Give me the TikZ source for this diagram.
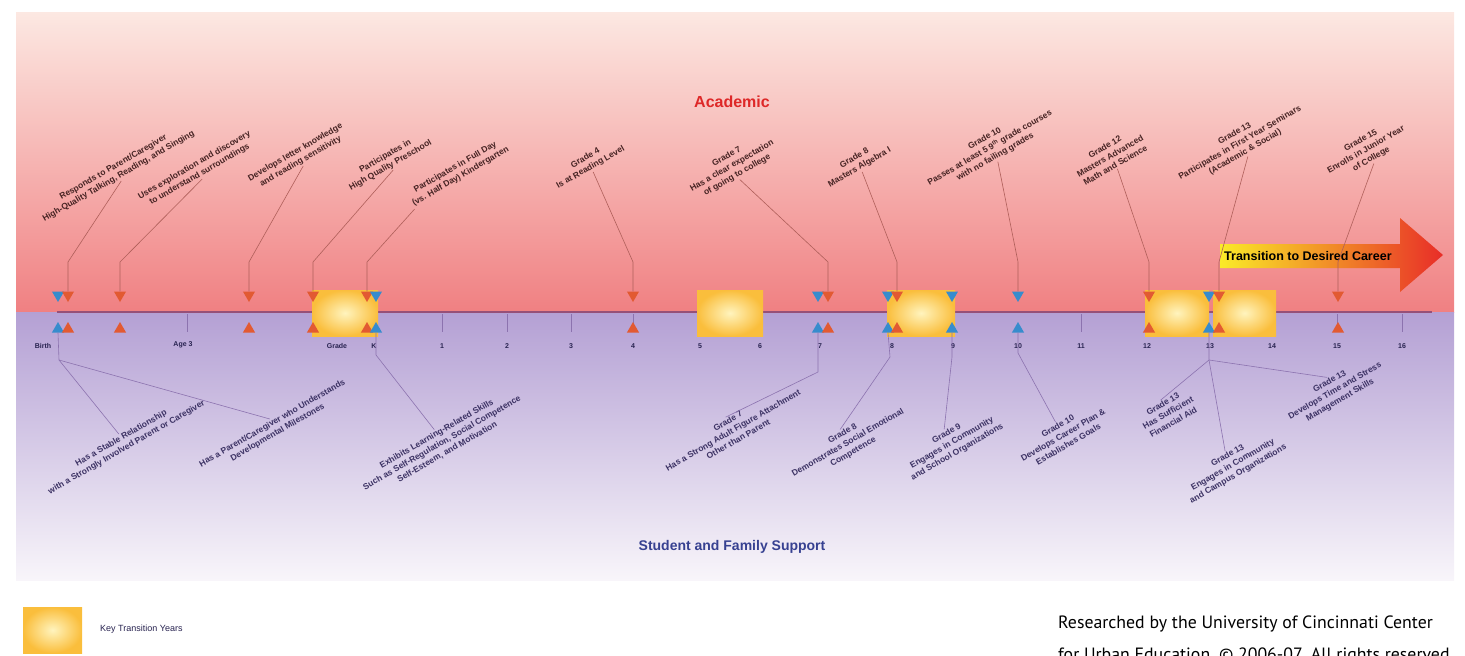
\documentclass[tikz,border=0pt]{standalone}
\usepackage{fontspec}
\setmainfont{Liberation Sans}
\newfontfamily\creditfont{PT Sans}
\usetikzlibrary{shapes.geometric}
\definecolor{acadtop}{RGB}{252,232,226}
\definecolor{acadbot}{RGB}{240,128,130}
\definecolor{supptop}{RGB}{180,160,212}
\definecolor{suppbot}{RGB}{248,245,250}
\definecolor{triorange}{RGB}{226,90,50}
\definecolor{triblue}{RGB}{55,140,205}
\definecolor{axisline}{RGB}{150,80,120}
\definecolor{acadline}{RGB}{175,95,90}
\definecolor{suppline}{RGB}{140,115,175}
\definecolor{acadtext}{RGB}{70,35,35}
\definecolor{supptext}{RGB}{60,50,100}
\definecolor{gradetext}{RGB}{40,35,80}
\definecolor{keyin}{RGB}{255,244,190}
\definecolor{keyout}{RGB}{250,190,60}
\definecolor{acadred}{RGB}{222,40,40}
\definecolor{suppblue}{RGB}{55,65,145}
\definecolor{careeryel}{RGB}{250,235,40}
\definecolor{careerred}{RGB}{232,45,40}
\tikzstyle{acad}=[rotate=30, align=center, text=acadtext, inner sep=1pt, font=\bfseries\fontsize{8.5}{10.5}\selectfont]
\tikzstyle{supp}=[rotate=30, align=center, text=supptext, inner sep=1pt, font=\bfseries\fontsize{8.5}{10.5}\selectfont]
\tikzstyle{grade}=[text=gradetext, inner sep=0pt, font=\bfseries\fontsize{7}{8}\selectfont]
\tikzstyle{tri}=[regular polygon, regular polygon sides=3, minimum size=14pt, inner sep=0pt]
\tikzstyle{dnor}=[tri, shape border rotate=180, fill=triorange]
\tikzstyle{dnbl}=[tri, shape border rotate=180, fill=triblue]
\tikzstyle{upor}=[tri, fill=triorange]
\tikzstyle{upbl}=[tri, fill=triblue]
\tikzstyle{keybox}=[inner color=keyin, outer color=keyout]
\tikzstyle{aline}=[draw=acadline, line width=0.6pt]
\tikzstyle{sline}=[draw=suppline, line width=0.6pt]
\tikzstyle{gradetick}=[draw=suppline, line width=0.5pt]
\begin{document}
\begin{tikzpicture}[x=1pt, y=-1pt]
\useasboundingbox (0,0) rectangle (1465,656);
\clip (0,0) rectangle (1465,656);
\shade[top color=acadtop, bottom color=acadbot] (16,12) rectangle (1454,312);
\shade[top color=supptop, bottom color=suppbot] (16,312) rectangle (1454,580);
\draw[axisline, line width=2pt] (57,312) -- (1432,312);
\draw[gradetick] (187,314) -- (187,332);
\draw[gradetick] (442,314) -- (442,332);
\draw[gradetick] (507,314) -- (507,332);
\draw[gradetick] (571,314) -- (571,332);
\draw[gradetick] (633,314) -- (633,332);
\draw[gradetick] (700,314) -- (700,332);
\draw[gradetick] (760,314) -- (760,332);
\draw[gradetick] (1081,314) -- (1081,332);
\draw[gradetick] (1147,314) -- (1147,332);
\draw[gradetick] (1272,314) -- (1272,332);
\draw[gradetick] (1337,314) -- (1337,332);
\draw[gradetick] (1402,314) -- (1402,332);
\shade[keybox] (312,290) rectangle (378,336);
\shade[keybox] (697,290) rectangle (763,336);
\shade[keybox] (887,290) rectangle (955,336);
\shade[keybox] (1145,290) rectangle (1209,336);
\shade[keybox] (1213,290) rectangle (1276,336);
\shade[left color=careeryel, right color=careerred] (1220,244) -- (1400,244) -- (1400,218) -- (1443,255) -- (1400,292) -- (1400,268) -- (1220,268) -- cycle;
\node[anchor=west, inner sep=0pt, font=\bfseries\fontsize{12.5}{14}\selectfont] (career) at (1224,256) {Transition to Desired Career};
\node[text=acadred, font=\bfseries\fontsize{16}{18}\selectfont] (academic) at (732,102) {Academic};
\node[text=suppblue, font=\bfseries\fontsize{14}{16}\selectfont] (support) at (732,547) {Student and Family Support};
\node[dnbl] (d1) at (58,295) {};
\node[dnor] (d2) at (68,295) {};
\node[dnor] (d3) at (120,295) {};
\node[dnor] (d4) at (249,295) {};
\node[dnor] (d5) at (313,295) {};
\node[dnor] (d6) at (367,295) {};
\node[dnbl] (d7) at (376,295) {};
\node[dnor] (d8) at (633,295) {};
\node[dnbl] (d9) at (818,295) {};
\node[dnor] (d10) at (828,295) {};
\node[dnbl] (d11) at (888,295) {};
\node[dnor] (d12) at (897,295) {};
\node[dnbl] (d13) at (952,295) {};
\node[dnbl] (d14) at (1018,295) {};
\node[dnor] (d15) at (1149,295) {};
\node[dnbl] (d16) at (1209,295) {};
\node[dnor] (d17) at (1219,295) {};
\node[dnor] (d18) at (1338,295) {};
\node[upbl] (u1) at (58,329) {};
\node[upor] (u2) at (68,329) {};
\node[upor] (u3) at (120,329) {};
\node[upor] (u4) at (249,329) {};
\node[upor] (u5) at (313,329) {};
\node[upor] (u6) at (367,329) {};
\node[upbl] (u7) at (376,329) {};
\node[upor] (u8) at (633,329) {};
\node[upbl] (u9) at (818,329) {};
\node[upor] (u10) at (828,329) {};
\node[upbl] (u11) at (888,329) {};
\node[upor] (u12) at (897,329) {};
\node[upbl] (u13) at (952,329) {};
\node[upbl] (u14) at (1018,329) {};
\node[upor] (u15) at (1149,329) {};
\node[upbl] (u16) at (1209,329) {};
\node[upor] (u17) at (1219,329) {};
\node[upor] (u18) at (1338,329) {};
\node[grade] (gbirth) at (43,346) {Birth};
\node[grade] (gage) at (183,345) {Age 3};
\node[grade] (ggrade) at (337,346) {Grade};
\node[grade] (gK) at (374,346) {K};
\node[grade] (g1) at (442,346) {1};
\node[grade] (g2) at (507,346) {2};
\node[grade] (g3) at (571,346) {3};
\node[grade] (g4) at (633,346) {4};
\node[grade] (g5) at (700,346) {5};
\node[grade] (g6) at (760,346) {6};
\node[grade] (g7) at (820,346) {7};
\node[grade] (g8) at (892,346) {8};
\node[grade] (g9) at (953,346) {9};
\node[grade] (g10) at (1018,346) {10};
\node[grade] (g11) at (1081,346) {11};
\node[grade] (g12) at (1147,346) {12};
\node[grade] (g13) at (1210,346) {13};
\node[grade] (g14) at (1272,346) {14};
\node[grade] (g15) at (1337,346) {15};
\node[grade] (g16) at (1402,346) {16};
\node[acad] (responds) at (116,172) {Responds to Parent/Caregiver\\High-Quality Talking, Reading, and Singing};
\node[acad] (explores) at (197,170) {Uses exploration and discovery\\to understand surroundings};
\node[acad] (letters) at (298,157) {Develops letter knowledge\\and reading sensitivity};
\node[acad] (preschool) at (388,161) {Participates in\\High Quality Preschool};
\node[acad] (kinder) at (458,172) {Participates in Full Day\\(vs. Half Day) Kindergarten};
\node[acad] (reading) at (588,163) {Grade 4\\Is at Reading Level};
\node[acad] (expect) at (732,166) {Grade 7\\Has a clear expectation\\of going to college};
\node[acad] (algebra) at (857,163) {Grade 8\\Masters Algebra I};
\node[acad] (courses) at (990,148) {Grade 10\\Passes at least 5 9\textsuperscript{th} grade courses\\with no failing grades};
\node[acad] (advanced) at (1110,156) {Grade 12\\Masters Advanced\\Math and Science};
\node[acad] (seminars) at (1240,143) {Grade 13\\Participates in First Year Seminars\\(Academic \& Social)};
\node[acad] (junior) at (1366,150) {Grade 15\\Enrolls in Junior Year\\of College};
\coordinate (kresponds) at (68,262);
\coordinate (kexplores) at (120,262);
\coordinate (kletters) at (249,262);
\coordinate (kpreschool) at (313,262);
\coordinate (kkinder) at (367,262);
\coordinate (kreading) at (633,262);
\coordinate (kexpect) at (828,262);
\coordinate (kalgebra) at (897,262);
\coordinate (kcourses) at (1018,262);
\coordinate (kadvanced) at (1149,262);
\coordinate (kseminars) at (1219,262);
\coordinate (kjunior) at (1338,262);
\draw[aline] (responds.south) -- (kresponds) -- (d2.north);
\draw[aline] (explores.south) -- (kexplores) -- (d3.north);
\draw[aline] (letters.south) -- (kletters) -- (d4.north);
\draw[aline] (preschool.south) -- (kpreschool) -- (d5.north);
\draw[aline] (kinder.south west) -- (kkinder) -- (d6.north);
\draw[aline] (reading.south) -- (kreading) -- (d8.north);
\draw[aline] (expect.south) -- (kexpect) -- (d10.north);
\draw[aline] (algebra.south) -- (kalgebra) -- (d12.north);
\draw[aline] (courses.south) -- (kcourses) -- (d14.north);
\draw[aline] (advanced.south) -- (kadvanced) -- (d15.north);
\draw[aline] (seminars.south) -- (kseminars) -- (d17.north);
\draw[aline] (junior.south) -- (kjunior) -- (d18.north);
\node[supp] (stable) at (124,443) {Has a Stable Relationship\\with a Strongly Involved Parent or Caregiver};
\node[supp] (milestones) at (275,428) {Has a Parent/Caregiver who Understands\\Developmental Milestones};
\node[supp] (learning) at (442,443) {Exhibits Learning-Related Skills\\Such as Self-Regulation, Social Competence\\Self-Esteem, and Motivation};
\node[supp] (attach) at (733,430) {Grade 7\\Has a Strong Adult Figure Attachment\\Other than Parent};
\node[supp] (emotional) at (848,443) {Grade 8\\Demonstrates Social Emotional\\Competence};
\node[supp] (engages) at (952,443) {Grade 9\\Engages in Community\\and School Organizations};
\node[supp] (careerplan) at (1063,435) {Grade 10\\Develops Career Plan \&\\Establishes Goals};
\node[supp] (finaid) at (1168,413) {Grade 13\\Has Sufficient\\Financial Aid};
\node[supp] (campus) at (1233,465) {Grade 13\\Engages in Community\\and Campus Organizations};
\node[supp] (stress) at (1335,391) {Grade 13\\Develops Time and Stress\\Management Skills};
\coordinate (kbirth) at (59,360);
\coordinate (kkgarten) at (376,355);
\coordinate (kseven) at (818,372);
\coordinate (keight) at (890,357);
\coordinate (knine) at (952,357);
\coordinate (kten) at (1018,353);
\coordinate (kthirteen) at (1209,360);
\draw[sline] (u1.south) -- (kbirth) -- (stable.north);
\draw[sline] (kbirth) -- (milestones.north);
\draw[sline] (u7.south) -- (kkgarten) -- (learning.north);
\draw[sline] (u9.south) -- (kseven) -- (attach.north);
\draw[sline] (u11.south) -- (keight) -- (emotional.north);
\draw[sline] (u13.south) -- (knine) -- (engages.north);
\draw[sline] (u14.south) -- (kten) -- (careerplan.north);
\draw[sline] (u16.south) -- (kthirteen) -- (finaid.north);
\draw[sline] (kthirteen) -- (campus.north);
\draw[sline] (kthirteen) -- (stress.north);
\shade[keybox] (23,607) rectangle (82,653);
\node[anchor=west, inner sep=0pt, text=gradetext, font=\fontsize{9}{10}\selectfont] (keylabel) at (100,629) {Key Transition Years};
\node[anchor=base west, inner sep=0pt, font=\creditfont\fontsize{17.8}{20}\selectfont] (credit1) at (1058,628) {Researched by the University of Cincinnati Center};
\node[anchor=base west, inner sep=0pt, font=\creditfont\fontsize{17.8}{20}\selectfont] (credit2) at (1058,660) {for Urban Education, © 2006-07. All rights reserved};
\end{tikzpicture}
\end{document}
